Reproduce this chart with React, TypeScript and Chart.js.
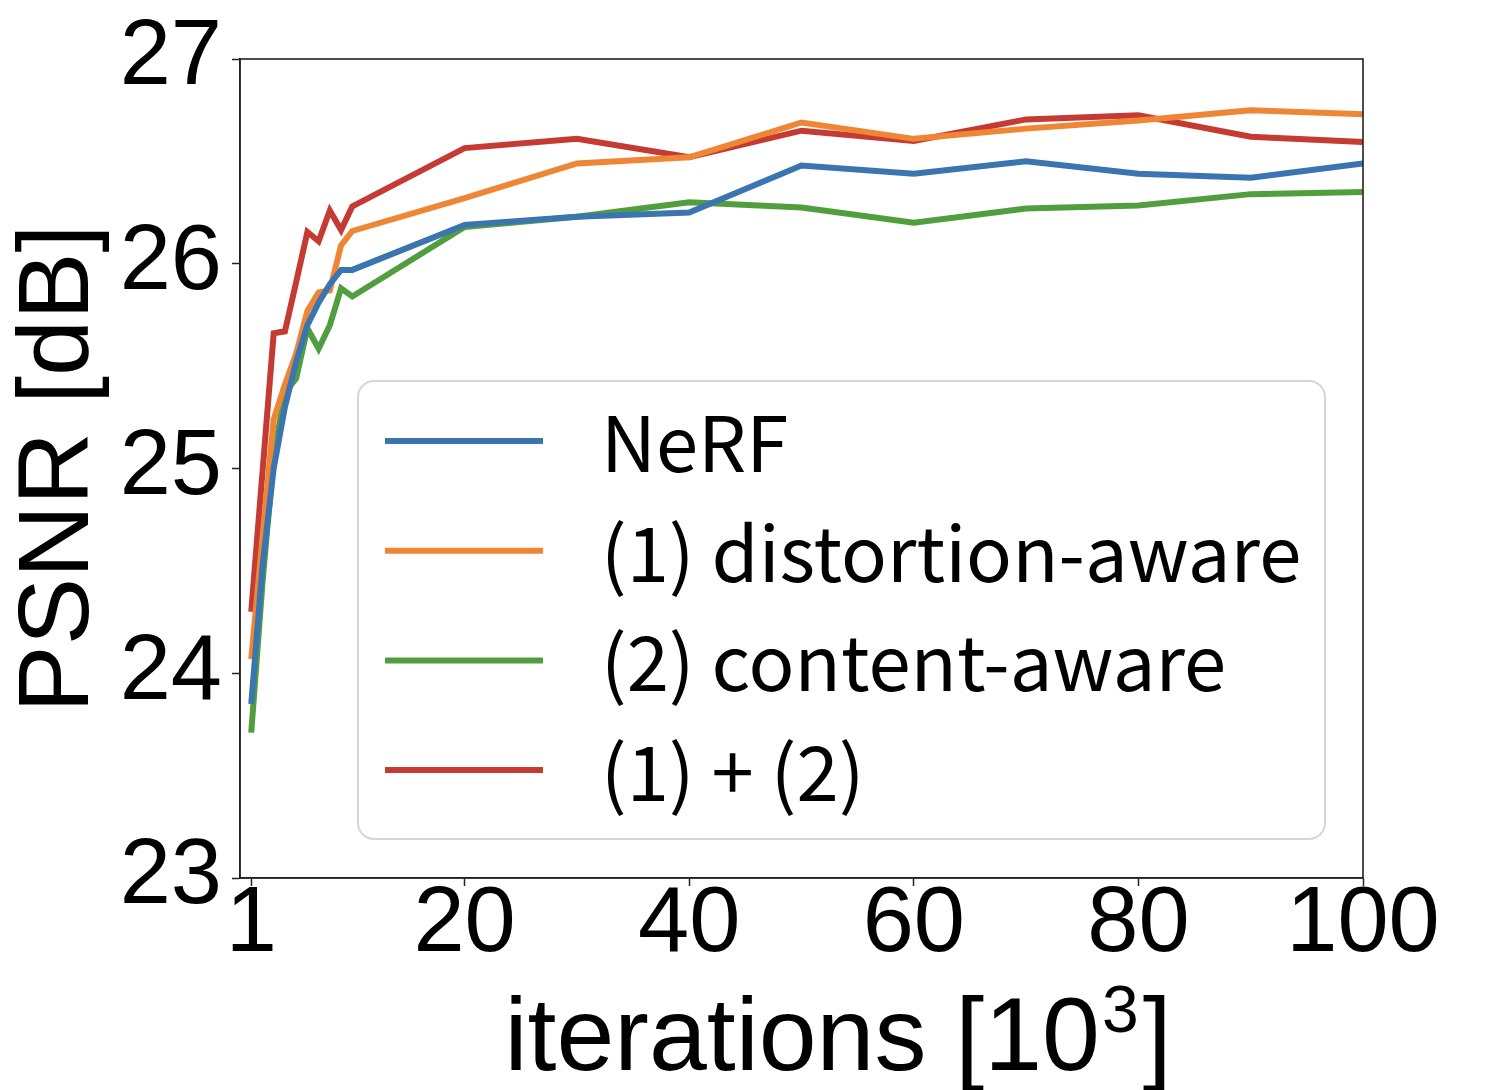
import React, { useEffect, useRef } from 'react';
import { Chart, registerables } from 'chart.js';

Chart.register(...registerables);

const ITERATIONS = [1, 2, 3, 4, 5, 6, 7, 8, 9, 10, 20, 30, 40, 50, 60, 70, 80, 90, 100];
const X_TICKS = [1, 20, 40, 60, 80, 100];

const NERF = [23.85, 24.52, 25.0, 25.3, 25.52, 25.7, 25.81, 25.9, 25.97, 25.97, 26.19, 26.23, 26.25, 26.48, 26.44, 26.5, 26.44, 26.42, 26.49];
const DISTORTION = [24.07, 24.66, 25.24, 25.41, 25.56, 25.77, 25.86, 25.87, 26.09, 26.16, 26.32, 26.49, 26.52, 26.69, 26.61, 26.66, 26.7, 26.75, 26.73];
const CONTENT = [23.71, 24.44, 25.06, 25.37, 25.44, 25.685, 25.585, 25.7, 25.88, 25.84, 26.18, 26.23, 26.3, 26.275, 26.2, 26.27, 26.285, 26.34, 26.35];
const COMBINED = [24.3, 24.98, 25.66, 25.67, 25.91, 26.155, 26.11, 26.26, 26.165, 26.28, 26.565, 26.61, 26.52, 26.65, 26.6, 26.705, 26.725, 26.62, 26.595];

const SERIES = [
  { label: 'NeRF', values: NERF, color: '#3b75af' },
  { label: '(1) distortion-aware', values: DISTORTION, color: '#ef8636' },
  { label: '(2) content-aware', values: CONTENT, color: '#519e3e' },
  { label: '(1) + (2)', values: COMBINED, color: '#c53a32' },
];

const SANS = '"Liberation Sans", Arial, sans-serif';
const TICK_FONT = { family: SANS, size: 92, lineHeight: 1 };
const TITLE_FONT = { family: SANS, size: 101 };

// spines on all four sides, like matplotlib
const framePlugin = {
  id: 'frame',
  afterDatasetsDraw(chart: any) {
    const { ctx, chartArea: a } = chart;
    ctx.save();
    ctx.strokeStyle = '#222';
    ctx.lineWidth = 1.6;
    ctx.strokeRect(a.left, a.top, a.right - a.left, a.bottom - a.top);
    ctx.restore();
  },
};

// x title with a real superscript
const xTitlePlugin = {
  id: 'xTitle',
  afterDraw(chart: any) {
    const { ctx } = chart;
    ctx.save();
    ctx.fillStyle = '#000';
    ctx.textBaseline = 'alphabetic';
    const big = `104px ${SANS}`;
    const small = `66px ${SANS}`;
    const a = 'iterations [10';
    const b = '3';
    const c = ']';
    ctx.font = big;
    const wa = ctx.measureText(a).width;
    const wc = ctx.measureText(c).width;
    ctx.font = small;
    const wb = ctx.measureText(b).width;
    const total = wa + wb + 6 + wc;
    let x = 838 - total / 2;
    const base = 1070;
    ctx.font = big;
    ctx.fillText(a, x, base);
    x += wa + 2;
    ctx.font = small;
    ctx.fillText(b, x, base - 38);
    x += wb + 4;
    ctx.font = big;
    ctx.fillText(c, x, base);
    ctx.restore();
  },
};

// legend box inside the plot
const boxLegendPlugin = {
  id: 'boxLegend',
  afterDraw(chart: any) {
    const { ctx } = chart;
    ctx.save();
    ctx.beginPath();
    ctx.roundRect(358, 381, 967, 458, 16);
    ctx.fillStyle = 'rgba(255,255,255,0.8)';
    ctx.fill();
    ctx.strokeStyle = '#d6d6d6';
    ctx.lineWidth = 2;
    ctx.stroke();
    ctx.font = '76px "Noto Sans CJK JP", "Noto Sans", sans-serif';
    ctx.textBaseline = 'middle';
    chart.data.datasets.forEach((ds: any, i: number) => {
      const y = 441 + i * 109.7;
      ctx.strokeStyle = ds.borderColor;
      ctx.lineWidth = 6;
      ctx.beginPath();
      ctx.moveTo(385, y);
      ctx.lineTo(543, y);
      ctx.stroke();
      ctx.fillStyle = '#000';
      ctx.fillText(ds.label, 601, y + 2);
    });
    ctx.restore();
  },
};

const App: React.FC = () => {
  const canvasRef = useRef<HTMLCanvasElement>(null);
  const chartRef = useRef<Chart | null>(null);

  useEffect(() => {
    if (!canvasRef.current) return;
    if (chartRef.current) chartRef.current.destroy();

    chartRef.current = new Chart(canvasRef.current, {
      type: 'line',
      data: {
        datasets: SERIES.map(s => ({
          label: s.label,
          data: ITERATIONS.map((x, i) => ({ x, y: s.values[i] })),
          borderColor: s.color,
          backgroundColor: s.color,
          borderWidth: 6,
          pointRadius: 0,
          tension: 0,
          fill: false,
        })),
      },
      options: {
        responsive: true,
        maintainAspectRatio: false,
        animation: false,
        layout: { padding: { top: 59, right: 135, left: 0, bottom: 0 } },
        plugins: {
          legend: { display: false },
          tooltip: { enabled: false },
        },
        scales: {
          x: {
            type: 'linear',
            min: 0,
            max: 100,
            afterBuildTicks: (scale: any) => {
              scale.ticks = X_TICKS.map(v => ({ value: v }));
            },
            afterFit: (scale: any) => {
              scale.height = 212;
            },
            ticks: {
              color: '#000',
              font: TICK_FONT,
              padding: -6,
              maxRotation: 0,
              autoSkip: false,
              callback: (v: any) => String(v),
            },
            grid: { drawOnChartArea: false, tickLength: 8, tickColor: '#222', tickWidth: 1.5 },
            border: { color: '#222', width: 1.6 },
          },
          y: {
            type: 'linear',
            min: 23,
            max: 27,
            afterFit: (scale: any) => {
              scale.width = 240;
            },
            ticks: { color: '#000', font: TICK_FONT, stepSize: 1, padding: 10 },
            grid: { drawOnChartArea: false, tickLength: 8, tickColor: '#222', tickWidth: 1.5 },
            border: { color: '#222', width: 1.6 },
            title: { display: true, text: 'PSNR [dB]', color: '#000', font: TITLE_FONT, padding: { top: 0, bottom: 0 } },
          },
        },
      },
      plugins: [framePlugin, xTitlePlugin, boxLegendPlugin],
    });

    return () => {
      chartRef.current?.destroy();
      chartRef.current = null;
    };
  }, []);

  return (
    <div style={{ position: 'absolute', left: 0, top: 0, width: 1498, height: 1090, background: '#fff' }}>
      <canvas ref={canvasRef} />
    </div>
  );
};

export default App;
